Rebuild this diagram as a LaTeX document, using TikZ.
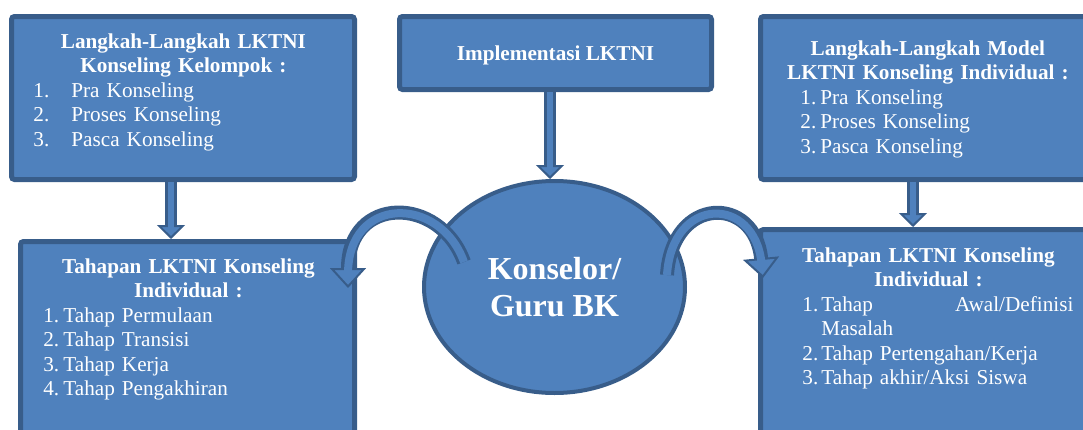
\documentclass[tikz,border=0pt]{standalone}
\usepackage{fontspec}
\setmainfont{Liberation Serif}
\usepackage{xcolor}
\usetikzlibrary{arrows.meta,positioning,calc,shapes.geometric}

\definecolor{bkfill}{HTML}{4F81BD}
\definecolor{bkline}{HTML}{385D8A}

\newcommand{\numbox}[2]{\makebox[#1][l]{#2}}

\begin{document}
\begin{tikzpicture}
[x = 0.5pt, y = -0.5pt,
 box/.style = {draw = bkline, fill = bkfill, line width = 2.5pt,
               rounded corners = 1.5pt, inner sep = 0pt},
 txt/.style = {text = white, inner sep = 0pt, anchor = base west,
               font = \fontsize{10.6}{12.25}\selectfont},
 blockarr/.style = {draw = bkline, line width = 6pt,
                    -{Triangle[width = 14pt, length = 7pt, fill = bkfill, line width = 1pt]},
                    postaction = {draw = bkfill, line width = 3pt, -, shorten > = 5pt}},
 curvarr/.style = {draw = bkline, line width = 7pt,
                   -{Triangle[width = 18pt, length = 10pt, fill = bkfill, line width = 1pt]},
                   postaction = {draw = bkfill, line width = 4pt, -, shorten > = 7pt}}]

\useasboundingbox (0,0) rectangle (1083,429);

\node[box, minimum width = 171.5pt, minimum height = 81.5pt] (A) at (183,98) {};

\node[box, minimum width = 156pt, minimum height = 36.5pt,
      text = white, text depth = 0pt,
      font = \bfseries\fontsize{10.6}{12.25}\selectfont] (B) at (555.5,53)
 {Implementasi LKTNI};

\node[box, minimum width = 167pt, minimum height = 81.5pt] (C) at (927.5,98) {};

\node[box, minimum width = 167pt, minimum height = 101.75pt,
      below = 28.5pt of A, xshift = 2.25pt] (D) {};

\node[box, minimum width = 167.5pt, minimum height = 107.75pt,
      below = 22.5pt of C, xshift = 0.25pt] (E) {};

\node[ellipse, draw = bkline, fill = bkfill, line width = 2pt,
      minimum width = 130.5pt, minimum height = 106pt, inner sep = 0pt,
      text = white, align = center,
      font = \bfseries\fontsize{16}{18.5}\selectfont] (K) at (554.5,287)
 {Konselor/\\Guru BK};

\node[txt, text width = 163pt] (At) at (20,48)
 {{\centering\bfseries Langkah-Langkah LKTNI\\Konseling Kelompok :\par}
  \hspace*{6.5pt}\numbox{19pt}{1.}Pra Konseling\\
  \hspace*{6.5pt}\numbox{19pt}{2.}Proses Konseling\\
  \hspace*{6.5pt}\numbox{19pt}{3.}Pasca Konseling};

\node[txt, text width = 157.5pt] (Ct) at (770,55)
 {{\centering\bfseries Langkah-Langkah Model\\LKTNI Konseling Individual :\par}
  \hspace*{15pt}\numbox{10pt}{1.}Pra Konseling\\
  \hspace*{15pt}\numbox{10pt}{2.}Proses Konseling\\
  \hspace*{15pt}\numbox{10pt}{3.}Pasca Konseling};

\node[txt, text width = 158pt] (Dt) at (30,273)
 {{\centering\bfseries Tahapan LKTNI Konseling\\Individual :\par}
  \hspace*{6.5pt}\numbox{10pt}{1.}Tahap Permulaan\\
  \hspace*{6.5pt}\numbox{10pt}{2.}Tahap Transisi\\
  \hspace*{6.5pt}\numbox{10pt}{3.}Tahap Kerja\\
  \hspace*{6.5pt}\numbox{10pt}{4.}Tahap Pengakhiran};

\node[txt, text width = 145pt] (Et) at (783,262)
 {{\centering\bfseries Tahapan LKTNI Konseling\\Individual :\par}
  \hspace*{9.5pt}\numbox{9.5pt}{1.}\makebox[126pt]{Tahap\hfill Awal/Definisi}\\
  \hspace*{19pt}Masalah\\
  \hspace*{9.5pt}\numbox{9.5pt}{2.}Tahap Pertengahan/Kerja\\
  \hspace*{9.5pt}\numbox{9.5pt}{3.}Tahap akhir/Aksi Siswa};

\draw[blockarr] ([xshift = -6pt]A.south) -- ([xshift = -6pt]A.south |- D.north);
\draw[blockarr] ([xshift = -2.75pt]B.south) -- ([xshift = -2.75pt]B.south |- K.north);
\draw[blockarr] ([xshift = -7.25pt]C.south) -- ([xshift = -7.25pt]C.south |- E.north);

\coordinate (kl) at ($(K.center)+(-90.5,-25)$);
\coordinate (dl) at (348,288);
\coordinate (kr) at ($(K.center)+(112.5,-12)$);
\coordinate (er) at (763,278);

\draw[curvarr] (kl) .. controls (440,195) and (348,195) .. (dl);
\draw[curvarr] (kr) .. controls (672,195) and (755,195) .. (er);

\end{tikzpicture}
\end{document}
